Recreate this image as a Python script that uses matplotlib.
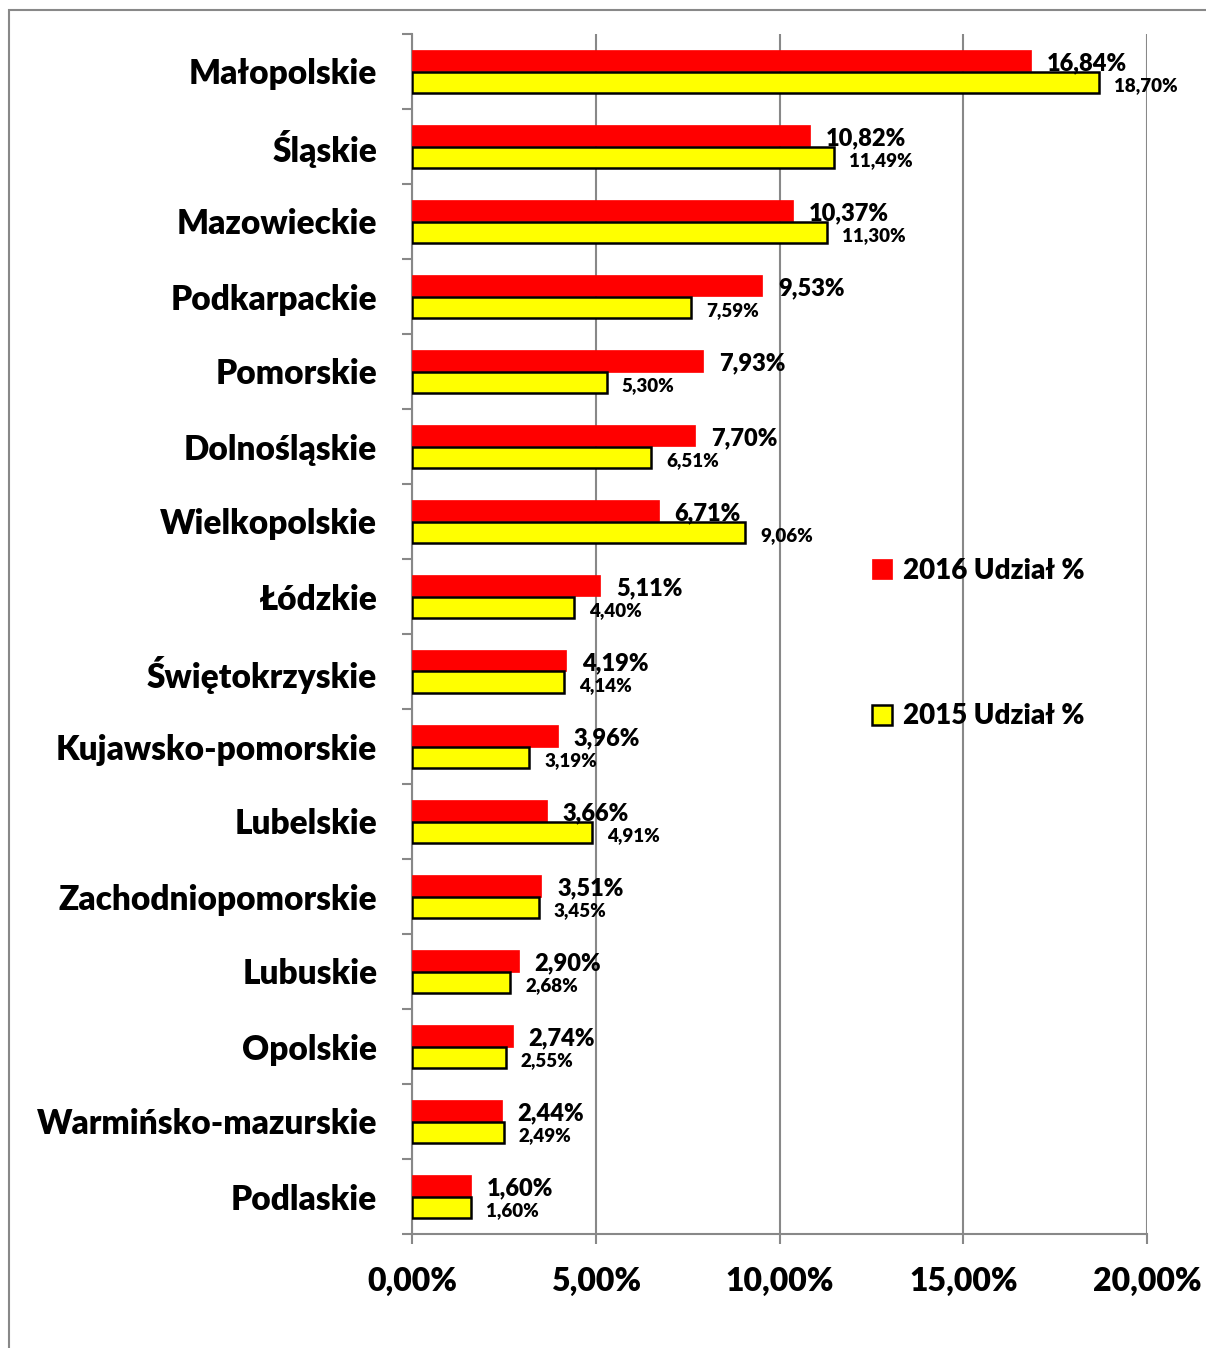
import numpy as np
import matplotlib
matplotlib.use('Agg')
from matplotlib import pyplot as plt
from matplotlib.patches import Rectangle
from matplotlib.ticker import FixedLocator, FuncFormatter

plt.rcParams['font.family'] = ['Lato', 'DejaVu Sans']
plt.rcParams['font.weight'] = 'heavy'

# udzial procentowy wg wojewodztw
wojewodztwa = ['Małopolskie', 'Śląskie', 'Mazowieckie', 'Podkarpackie', 'Pomorskie',
               'Dolnośląskie', 'Wielkopolskie', 'Łódzkie', 'Świętokrzyskie',
               'Kujawsko-pomorskie', 'Lubelskie', 'Zachodniopomorskie', 'Lubuskie',
               'Opolskie', 'Warmińsko-mazurskie', 'Podlaskie']
udzial_2016 = [16.84, 10.82, 10.37, 9.53, 7.93, 7.70, 6.71, 5.11, 4.19, 3.96,
               3.66, 3.51, 2.90, 2.74, 2.44, 1.60]
udzial_2015 = [18.70, 11.49, 11.30, 7.59, 5.30, 6.51, 9.06, 4.40, 4.14, 3.19,
               4.91, 3.45, 2.68, 2.55, 2.49, 1.60]

W = 'heavy'

def pct(v):
    return ('%.2f%%' % v).replace('.', ',')

fig = plt.figure(figsize=(12.06, 13.48), dpi=100)
ax = fig.add_axes([412/1206, 1 - 1234/1348, 735/1206, 1200/1348])

y = np.arange(len(wojewodztwa))
h = 0.287
ax.barh(y - h/2, udzial_2016, height=h, color='#ff0000', edgecolor='#ff0000',
        linewidth=0.5, label='2016 Udział %', zorder=3)
ax.barh(y + h/2, udzial_2015, height=h, color='#ffff00', edgecolor='black',
        linewidth=1.8, label='2015 Udział %', zorder=3)

for yi, v in zip(y, udzial_2016):
    ax.annotate(pct(v), (v, yi - h/2), xytext=(16, -3), textcoords='offset pixels',
                va='center', ha='left', fontsize=17, fontweight=W, zorder=5)
for yi, v in zip(y, udzial_2015):
    ax.annotate(pct(v), (v, yi + h/2), xytext=(15, -3), textcoords='offset pixels',
                va='center', ha='left', fontsize=13.5, fontweight=W, zorder=5)

ax.set_xlim(0, 20)
ax.set_ylim(len(wojewodztwa) - 0.5, -0.5)
ax.set_xticks([0, 5, 10, 15, 20])
ax.xaxis.set_major_formatter(FuncFormatter(lambda v, p: pct(v)))
ax.set_yticks(y)
ax.set_yticklabels(wojewodztwa)
ax.yaxis.set_minor_locator(FixedLocator(np.arange(-0.5, len(wojewodztwa), 1)))

ax.tick_params(axis='y', which='major', length=0, pad=25, labelsize=24)
ax.tick_params(axis='y', which='minor', length=7, width=1.5, color='#888888')
ax.tick_params(axis='x', which='major', length=7, width=1.5, color='#888888',
               pad=17, labelsize=23)
for lab in ax.get_xticklabels() + ax.get_yticklabels():
    lab.set_fontweight(W)

ax.grid(axis='x', color='#888888', linewidth=1.5, zorder=0)
for s in ['top', 'right']:
    ax.spines[s].set_visible(False)
for s in ['left', 'bottom']:
    ax.spines[s].set_color('#888888')
    ax.spines[s].set_linewidth(1.5)

leg = ax.legend(loc='upper left', bbox_to_anchor=(858/1206, 1 - 544/1348),
                bbox_transform=fig.transFigure, frameon=False, fontsize=20,
                handlelength=0.72, handleheight=0.72, handletextpad=0.4,
                labelspacing=4.3, borderpad=0)
for t in leg.get_texts():
    t.set_fontweight(W)

# ramka wokol wykresu
fig.add_artist(Rectangle((9/1206, -0.05), 1.1, 1 - 10/1348 + 0.05,
                         transform=fig.transFigure, fill=False,
                         edgecolor='#888888', linewidth=1.5))

fig.savefig('out.png', dpi=100)
